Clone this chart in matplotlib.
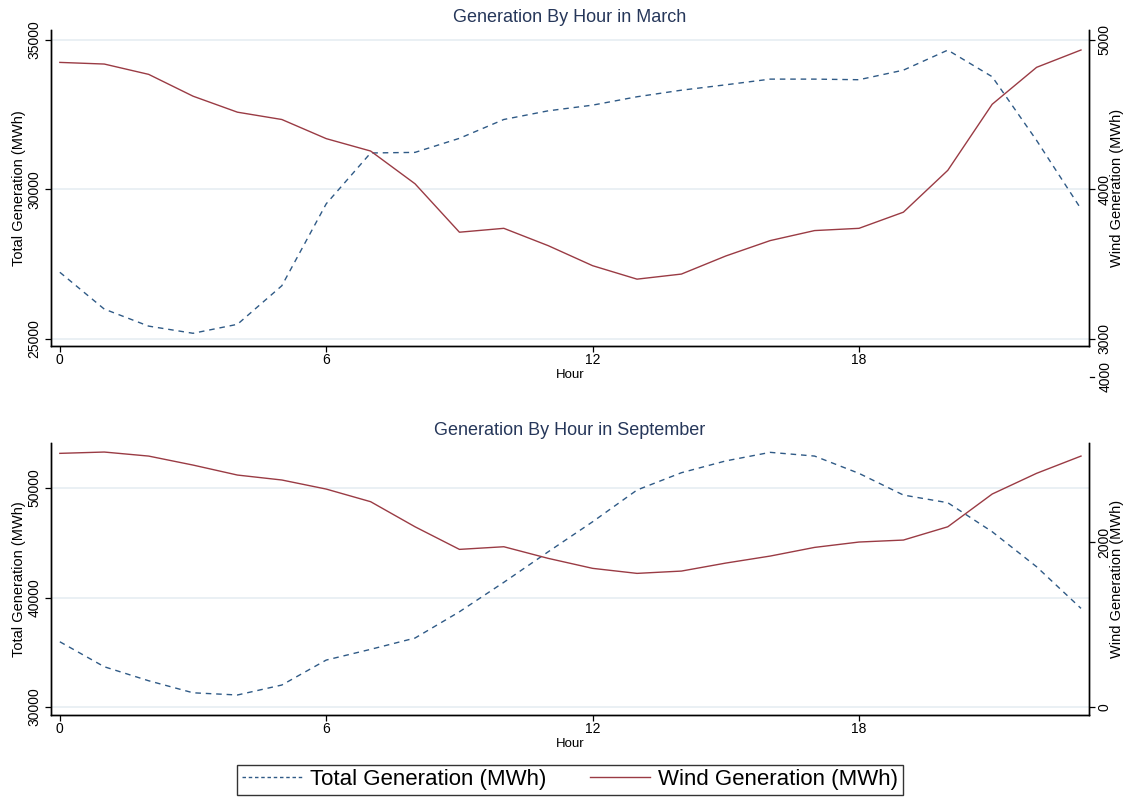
import matplotlib
matplotlib.use("Agg")
import matplotlib.pyplot as plt
from matplotlib.lines import Line2D

plt.rcParams["font.family"] = ["Liberation Sans", "DejaVu Sans"]

hours = list(range(24))

march_total = [27230, 26000, 25430, 25190, 25490, 26780, 29520, 31220,
               31240, 31710, 32340, 32630, 32820, 33100, 33320, 33500,
               33690, 33690, 33670, 33990, 34660, 33770, 31640, 29350]
march_wind = [4850, 4839, 4770, 4624, 4517, 4468, 4340, 4257,
              4038, 3714, 3740, 3624, 3490, 3400, 3434, 3555,
              3658, 3725, 3740, 3848, 4128, 4570, 4817, 4933]

sept_total = [35960, 33680, 32400, 31300, 31100, 32010, 34290, 35270,
              36300, 38700, 41390, 44180, 46920, 49820, 51400, 52480,
              53260, 52920, 51340, 49360, 48660, 46010, 42810, 39010]
sept_wind = [3075, 3091, 3042, 2933, 2812, 2752, 2642, 2489,
             2185, 1911, 1943, 1802, 1681, 1620, 1648, 1745,
             1830, 1935, 2000, 2024, 2185, 2582, 2833, 3042]

hour_ticks = [0, 6, 12, 18]

NAVY = "#2f5a86"
MAROON = "#9a3b44"
GRID = "#e6eef2"
TITLE = "#26375a"
DASH = (0, (4, 3.5))


def draw_panel(ax, total, wind, title, left_lim, left_ticks, right_lim, right_ticks):
    ax.set_xlim(-0.2, 23.18)
    ax.set_ylim(*left_lim)
    ax.set_yticks(left_ticks)
    ax.set_xticks(hour_ticks)
    for t in left_ticks:
        ax.axhline(t, color=GRID, lw=1.2, zorder=0)
    ax.plot(hours, total, color=NAVY, ls=DASH, lw=1.0)

    axr = ax.twinx()
    axr.set_ylim(*right_lim)
    axr.set_yticks(right_ticks)
    axr.plot(hours, wind, color=MAROON, lw=1.0)

    for a in (ax, axr):
        a.spines["top"].set_visible(False)
        for s in a.spines.values():
            s.set_linewidth(1.0)
        a.tick_params(direction="out", length=4, width=0.9, labelsize=10)
    ax.tick_params(axis="y", labelrotation=90, pad=3)
    axr.tick_params(axis="y", labelrotation=90, pad=2)
    for lab in ax.get_yticklabels() + axr.get_yticklabels():
        lab.set_va("center")
    ax.tick_params(axis="x", pad=1)

    ax.set_title(title, fontsize=13, color=TITLE, pad=6)
    ax.set_xlabel("Hour", fontsize=9.5, labelpad=1.5)
    ax.set_ylabel("Total Generation (MWh)", fontsize=10.5, labelpad=1)
    axr.set_ylabel("Wind Generation (MWh)", fontsize=10.5, labelpad=-1)
    return axr


fig = plt.figure(figsize=(11.3, 7.99), dpi=100)
ax1 = fig.add_axes([0.0451, 0.567, 0.9186, 0.3955])
ax2 = fig.add_axes([0.0451, 0.1051, 0.9186, 0.3404])

draw_panel(ax1, march_total, march_wind, "Generation By Hour in March",
           (24766, 35334), [25000, 30000, 35000], (2953, 5067), [3000, 4000, 5000])
draw_panel(ax2, sept_total, sept_wind, "Generation By Hour in September",
           (29270, 54110), [30000, 40000, 50000], (-97, 3200), [0, 2000])

# stray tick label under the March wind axis, as in the source graph
fig.add_artist(Line2D([1090 / 1130, 1094 / 1130], [1 - 377 / 799] * 2,
                      transform=fig.transFigure, color="black", lw=0.9))
fig.text(1106 / 1130, 1 - 377 / 799, "4000", rotation=90,
         ha="center", va="center", fontsize=10)

handles = [
    Line2D([], [], color=NAVY, ls=(0, (2.5, 2)), lw=1.0),
    Line2D([], [], color=MAROON, lw=1.0),
]
fig.legend(handles, ["Total Generation (MWh)", "Wind Generation (MWh)"],
           loc="lower center", bbox_to_anchor=(0.5045, 0.0), ncol=2,
           fontsize=16, frameon=True, fancybox=False, edgecolor="black",
           handlelength=2.7, handletextpad=0.35, columnspacing=2.0,
           borderpad=0.2, borderaxespad=0.2)

fig.savefig("out.png", dpi=100)
